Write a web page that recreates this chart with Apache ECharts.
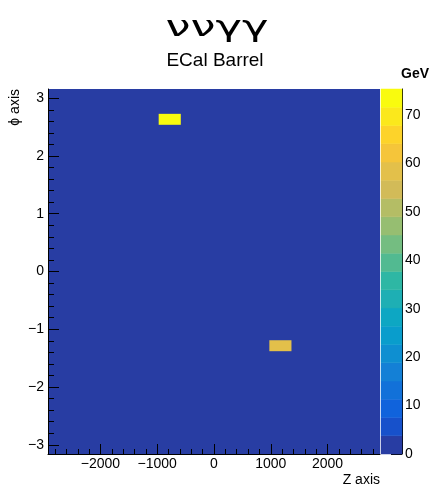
<!DOCTYPE html>
<html>
<head>
<meta charset="utf-8">
<script src="https://cdn.jsdelivr.net/npm/echarts@6/dist/echarts.min.js"></script>
<style>
  html, body { margin: 0; padding: 0; background: #fff; }
  #chart { width: 431px; height: 487px; }
</style>
</head>
<body>
<div id="chart"></div>
<script>
// hit cells: z range, phi range, deposited energy (GeV)
const cellZLow = [-975, 975]
const cellZHigh = [-585, 1365]
const cellPhiLow = [2.54, -1.38]
const cellPhiHigh = [2.73, -1.19]
const cellEnergy = [75.4, 58]

// histogram ranges
const zRange = [-2925, 2925]
const phiRange = [-3.16, 3.16]
const energyMax = 75.4

// ticks
const zMajorTicks = [-2000, -1000, 0, 1000, 2000]
const phiMajorTicks = [-3, -2, -1, 0, 1, 2, 3]
const energyTicks = [0, 10, 20, 30, 40, 50, 60, 70]
const zMinorTicks = []
for (let v = -2800; v <= 2800; v += 200) if (v % 1000 !== 0) zMinorTicks.push(v)
const phiMinorTicks = []
for (let k = -14; k <= 14; k++) if (k % 5 !== 0) phiMinorTicks.push(k / 5)

// ROOT kBird palette, 20 contours
const palette = [
  '#283da3', '#1751cb', '#1063dc', '#1271d9', '#1480d6',
  '#0e8fd1', '#099dcc', '#0da7c3', '#1eafb4', '#2eb7a4',
  '#52ba91', '#74bd81', '#96be71', '#b4bd65', '#d2bb58',
  '#e3c04a', '#f5c53a', '#fdd32a', '#fbe81c', '#f9fb0e'
]
const nBands = palette.length

const font = 'Liberation Sans, Arial, sans-serif'
const minus = v => String(v).replace('-', '\u2212')

const colorOf = v => palette[Math.min(nBands - 1, Math.floor(v / energyMax * nBands))]

const cells = cellEnergy.map((e, i) => [cellZLow[i], cellZHigh[i], cellPhiLow[i], cellPhiHigh[i], e])
const bands = palette.map((c, i) => [i * energyMax / nBands, (i + 1) * energyMax / nBands, i])

const tickLabel = { color: '#000', fontSize: 14, fontFamily: font }
const blackLine = { show: true, onZero: false, lineStyle: { color: '#000', width: 1 } }

const option = {
  animation: false,
  grid: [
    { left: 48, right: 51, top: 89, bottom: 33, show: true, backgroundColor: palette[0], borderWidth: 0 },
    { left: 381, right: 29, top: 89, bottom: 33 }
  ],
  graphic: [
    {
      type: 'text', x: 217, y: 29, scaleX: 1.6,
      style: { text: 'ννγγ', font: '28px DejaVu Sans', fill: '#000', align: 'center', verticalAlign: 'middle' }
    },
    {
      type: 'text', x: 215, y: 61,
      style: { text: 'ECal Barrel', font: '19px ' + font, fill: '#000', align: 'center', verticalAlign: 'middle' }
    },
    {
      type: 'text', x: 429, y: 74,
      style: { text: 'GeV', font: 'bold 14px ' + font, fill: '#000', align: 'right', verticalAlign: 'middle' }
    },
    {
      type: 'text', x: 15, y: 89, rotation: Math.PI / 2,
      style: { text: 'ϕ axis', font: '14px ' + font, fill: '#000', align: 'right', verticalAlign: 'middle' }
    },
    {
      type: 'text', x: 380, y: 480,
      style: { text: 'Z axis', font: '14px ' + font, fill: '#000', align: 'right', verticalAlign: 'middle' }
    }
  ],
  xAxis: [
    {
      type: 'value', gridIndex: 0, position: 'bottom', min: zRange[0], max: zRange[1],
      axisLine: blackLine,
      axisTick: { show: true, inside: true, length: 10, customValues: zMajorTicks, lineStyle: { color: '#000' } },
      axisLabel: Object.assign({ margin: 3, customValues: zMajorTicks, formatter: minus }, tickLabel),
      splitLine: { show: false }
    },
    {
      type: 'value', gridIndex: 0, position: 'bottom', min: zRange[0], max: zRange[1],
      axisLine: { show: false, onZero: false },
      axisTick: { show: true, inside: true, length: 5, customValues: zMinorTicks, lineStyle: { color: '#000' } },
      axisLabel: { show: false },
      splitLine: { show: false }
    },
    { type: 'value', gridIndex: 1, min: 0, max: 1, show: false }
  ],
  yAxis: [
    {
      type: 'value', gridIndex: 0, position: 'left', min: phiRange[0], max: phiRange[1],
      axisLine: blackLine,
      axisTick: { show: true, inside: true, length: 11, customValues: phiMajorTicks, lineStyle: { color: '#000' } },
      axisLabel: Object.assign({ margin: 4, customValues: phiMajorTicks, formatter: minus }, tickLabel),
      splitLine: { show: false }
    },
    {
      type: 'value', gridIndex: 0, position: 'left', min: phiRange[0], max: phiRange[1],
      axisLine: { show: false, onZero: false },
      axisTick: { show: true, inside: true, length: 6, customValues: phiMinorTicks, lineStyle: { color: '#000' } },
      axisLabel: { show: false },
      splitLine: { show: false }
    },
    {
      type: 'value', gridIndex: 1, position: 'right', min: 0, max: energyMax,
      axisLine: blackLine,
      axisTick: { show: true, inside: true, length: 11, customValues: energyTicks, lineStyle: { color: '#000' } },
      axisLabel: Object.assign({ margin: 3, customValues: energyTicks }, tickLabel),
      splitLine: { show: false }
    }
  ],
  series: [
    {
      type: 'custom',
      xAxisIndex: 0,
      yAxisIndex: 0,
      encode: { x: [0, 1], y: [2, 3] },
      data: cells,
      renderItem (params, api) {
        const p0 = api.coord([api.value(0), api.value(3)])
        const p1 = api.coord([api.value(1), api.value(2)])
        return {
          type: 'rect',
          shape: { x: p0[0], y: p0[1], width: p1[0] - p0[0], height: p1[1] - p0[1] },
          style: { fill: colorOf(api.value(4)) }
        }
      }
    },
    {
      type: 'custom',
      xAxisIndex: 2,
      yAxisIndex: 2,
      encode: { y: [0, 1] },
      data: bands,
      renderItem (params, api) {
        const p0 = api.coord([0, api.value(1)])
        const p1 = api.coord([1, api.value(0)])
        const c = palette[api.value(2)]
        return {
          type: 'rect',
          shape: { x: p0[0], y: p0[1], width: p1[0] - p0[0], height: p1[1] - p0[1] },
          style: { fill: c, stroke: c, lineWidth: 0.5 }
        }
      },
      z: 1
    }
  ]
}

const chart = echarts.init(document.getElementById('chart'))
chart.setOption(option)
</script>
</body>
</html>
